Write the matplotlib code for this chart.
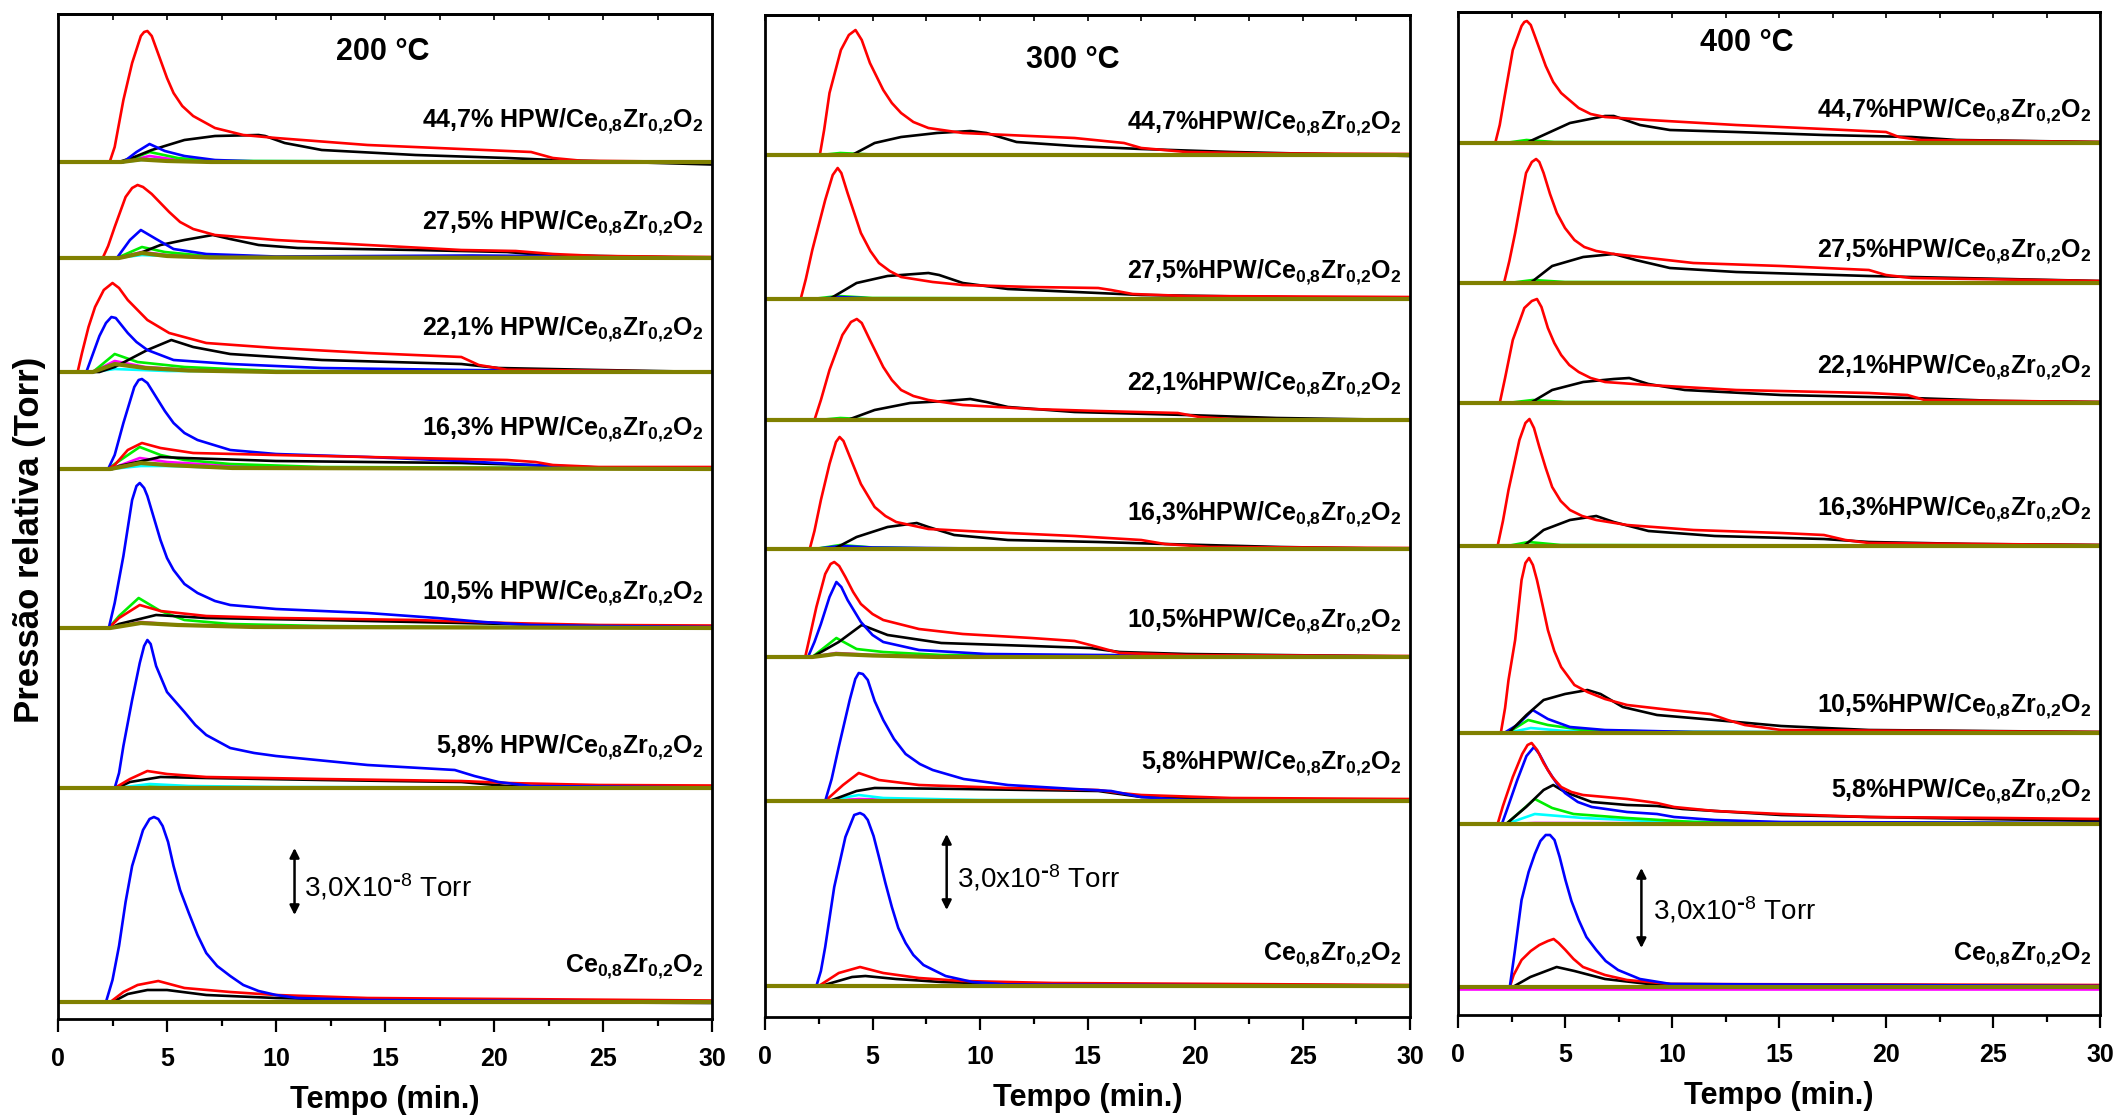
import matplotlib
matplotlib.use("Agg")
import matplotlib.pyplot as plt
from matplotlib.ticker import MultipleLocator

plt.rcParams['font.family'] = ['Liberation Sans', 'DejaVu Sans']
plt.rcParams['font.weight'] = 'bold'
plt.rcParams['mathtext.default'] = 'regular'

# Curvas de pressão relativa (u.a.) : (tempo em min, sinal)
# ---------------- 200 °C ----------------
s200_447 = {
    "cyan": [(0, 0), (3.0, 0), (4.2, 3), (6, 1), (30, 0)],
    "magenta": [(0, 0), (3.0, 0), (4.2, 6), (5.5, 2), (8, 0.5), (30, 0)],
    "green": [(0, 0), (3.0, 0), (4.2, 10), (5.5, 4), (7, 1), (30, 0)],
    "black": [(0, 0), (2.8, 0), (3.5, 5), (4.3, 12), (5.8, 22), (7.2, 26), (9.2, 27), (9.5, 26), (10.4, 19),
              (12.1, 12), (16.4, 7), (20.6, 4), (22.7, 2), (30, -2.5)],
    "blue": [(0, 0), (3.0, 0), (3.6, 10), (4.2, 18), (4.9, 11), (5.8, 6), (7.2, 2), (9.2, 0.5), (30, 0)],
    "red": [(0, 0), (2.37, 0), (2.6, 15), (3.0, 62), (3.4, 99), (3.8, 126), (3.95, 130), (4.1, 131),
            (4.3, 126), (4.7, 102), (5.0, 84), (5.3, 69), (5.7, 56), (6.2, 46), (7.2, 34), (8.5, 27),
            (10, 24), (14.2, 17), (18.5, 13), (21.7, 10), (22.7, 4), (24, 1.3), (30, 0)],
    "olive": [(0, 0), (2.9, 0), (3.8, 2.5), (5, 1), (7, 0), (30, 0)],
}
s200_275 = {
    "cyan": [(0, 0), (2.7, 0), (3.85, 3), (6, 1), (30, 0)],
    "magenta": [(0, 0), (2.7, 0), (3.85, 6), (5, 3), (7, 1), (30, 0)],
    "green": [(0, 0), (2.7, 0), (3.85, 11), (4.9, 6), (6.8, 2), (10, 0.5), (30, 0)],
    "black": [(0, 0), (2.7, 0), (3.65, 4), (4.7, 13), (5.8, 18), (7.1, 23), (7.9, 19), (9.2, 13),
              (11, 10), (16.4, 8), (20.6, 6), (22.3, 3), (30, 0)],
    "blue": [(0, 0), (2.7, 0), (3.3, 18), (3.8, 28), (4.5, 19), (5.3, 9), (6.8, 4), (10, 1.5),
             (19, 2.5), (22, 2), (24, 0.5), (30, 0)],
    "red": [(0, 0), (2.05, 0), (2.3, 12), (2.6, 31), (3.1, 61), (3.4, 70), (3.65, 73), (3.9, 71),
            (4.3, 64), (5.1, 46), (5.6, 36), (6.2, 29), (7.2, 23), (10, 18), (14.2, 13), (18.5, 8),
            (21, 7), (22.7, 4), (24.8, 2), (30, 1)],
    "olive": [(0, 0), (2.8, 0), (3.85, 5), (5, 2), (7, 0.5), (30, 0)],
}
s200_221 = {
    "cyan": [(0, 0), (1.6, 0), (2.6, 3), (5, 1), (30, 0)],
    "magenta": [(0, 0), (1.6, 0), (2.6, 11), (4, 5), (6, 2), (10, 0.5), (30, 0)],
    "green": [(0, 0), (1.6, 0), (2.6, 18), (3.65, 10), (5.8, 5), (10, 1), (30, 0)],
    "black": [(0, 0), (1.9, 0), (2.6, 5), (4.1, 22), (5.2, 32), (6.2, 25), (7.9, 18), (12.1, 12),
              (18.5, 8), (20.2, 4), (24.8, 2), (30, 0)],
    "blue": [(0, 0), (1.3, 0), (1.5, 12), (1.9, 36), (2.2, 49), (2.45, 55), (2.65, 54), (3.2, 39),
             (3.6, 30), (4.1, 22), (5.3, 12), (7.9, 8), (12.1, 4), (18.5, 2), (30, 0)],
    "red": [(0, 0), (0.9, 0), (1.1, 19), (1.4, 45), (1.7, 65), (2.1, 82), (2.5, 89), (2.8, 84),
            (3.2, 72), (4.1, 52), (5.1, 39), (6.8, 29), (10, 24), (14.2, 19), (18.5, 15), (19.3, 7),
            (20.6, 2.3), (30, 0)],
    "olive": [(0, 0), (1.6, 0), (2.6, 8), (4, 4), (6, 1.5), (10, 0), (30, 0)],
}
s200_163 = {
    "cyan": [(0, 0), (2.4, 0), (3.8, 3), (5, 3), (8, 1), (30, 0)],
    "magenta": [(0, 0), (2.4, 0), (3.75, 11), (5, 7), (8, 3), (12, 1), (30, 0)],
    "green": [(0, 0), (2.3, 0), (2.6, 5), (3.75, 22), (4.7, 14), (5.8, 9), (7.9, 5), (12.1, 2), (30, 0.5)],
    "black": [(0, 0), (2.5, 0), (2.8, 3), (4.7, 12), (5.8, 11), (10, 8), (18.5, 6), (21.7, 4),
              (24.8, 1), (30, 0)],
    "blue": [(0, 0), (2.3, 0), (2.6, 14), (3.0, 46), (3.5, 82), (3.7, 89), (3.85, 90), (4.1, 86),
             (4.5, 72), (4.9, 58), (5.3, 46), (5.8, 36), (6.4, 29), (7.9, 19), (10, 15), (14.2, 12),
             (18.5, 8), (21.7, 4), (24.8, 1.5), (30, 0.5)],
    "red": [(0, 0), (2.3, 0), (2.6, 4), (3.2, 19), (3.85, 26), (4.7, 21), (6.2, 16), (10, 14),
            (14.2, 12), (20.6, 9), (21.9, 7), (22.7, 4), (24.8, 2), (30, 2)],
    "olive": [(0, 0), (2.4, 0), (3.8, 6), (5, 4), (8, 1), (30, 0)],
}
s200_105 = {
    "magenta": [(0, 0), (2.4, 0), (3.8, 6), (5.5, 3), (9, 1), (30, 0)],
    "green": [(0, 0), (2.33, 0), (2.8, 12), (3.7, 30), (4.7, 17), (5.8, 8), (7.9, 4), (12.1, 2),
              (18.5, 1), (30, 0.5)],
    "black": [(0, 0), (2.4, 0), (2.8, 4), (4.5, 13), (6.8, 10), (12.1, 8), (18.5, 5), (22.7, 3), (30, 1)],
    "red": [(0, 0), (2.33, 0), (2.8, 10), (3.75, 23), (4.7, 17), (6.8, 12), (10, 10), (16.4, 8),
            (20.6, 5), (24.8, 3), (30, 2.5)],
    "blue": [(0, 0), (2.33, 0), (2.6, 25), (3.0, 72), (3.4, 128), (3.6, 142), (3.75, 145), (3.95, 140),
             (4.1, 132), (4.4, 110), (4.7, 88), (5.0, 70), (5.3, 58), (5.8, 44), (6.4, 35), (7.2, 27),
             (7.9, 23), (10, 19), (14.2, 15), (17.4, 10), (19.5, 6), (21.7, 3), (24.8, 2), (30, 1)],
    "olive": [(0, 0), (2.4, 0), (3.8, 5), (5.5, 3), (9, 1), (30, 0)],
}
s200_58 = {
    "green": [(0, 0), (2.7, 0), (4.2, 1.5), (8, 0.5), (30, 0)],
    "cyan": [(0, 0), (2.7, 0), (4.2, 4), (6, 2), (10, 1), (30, 0)],
    "black": [(0, 0), (2.7, 0), (3.3, 6), (4.7, 11), (6.8, 10), (12.1, 8), (18.5, 6), (20.6, 2), (30, 1)],
    "red": [(0, 0), (2.6, 0), (3.3, 9), (4.1, 17), (5.0, 14), (6.8, 11), (12.1, 9), (18.5, 7),
            (20.6, 5), (24.8, 3), (30, 2.5)],
    "blue": [(0, 0), (2.6, 0), (2.8, 15), (3.0, 42), (3.4, 88), (3.75, 125), (3.95, 142), (4.1, 148),
             (4.25, 144), (4.5, 122), (5.0, 96), (5.8, 76), (6.3, 63), (6.8, 53), (7.9, 40), (9, 35),
             (10, 32), (14.2, 23), (18.2, 18), (19.1, 12), (20.2, 6), (21.7, 2), (30, 0.5)],
    "olive": [(0, 0), (30, 0)],
}
s200_ce = {
    "black": [(0, 0), (2.5, 0), (3.2, 8), (4.1, 12), (5.0, 12), (6.8, 7), (10, 4), (14.2, 2), (20, 0), (30, -1)],
    "red": [(0, 0), (2.4, 0), (3.0, 10), (3.65, 17), (4.6, 21), (5.8, 14), (7.9, 10), (10, 7), (14.2, 4), (30, 1.5)],
    "blue": [(0, 0), (2.2, 0), (2.5, 22), (2.8, 56), (3.1, 100), (3.4, 136), (3.9, 172), (4.2, 183),
             (4.4, 185), (4.6, 183), (4.8, 176), (5.05, 160), (5.3, 136), (5.6, 112), (6.0, 89),
             (6.4, 67), (6.8, 49), (7.3, 36), (7.9, 26), (8.5, 17), (9.2, 11), (10, 7), (11, 4),
             (14.2, 2), (30, 0)],
    "olive": [(0, 0), (30, 0)],
}

# ---------------- 300 °C ----------------
s300_447 = {
    "green": [(0, 0), (2.6, 0), (3.5, 2), (5, 0.5), (30, 0)],
    "black": [(0, 0), (4.05, 0), (5.1, 12), (6.33, 18), (8.0, 22), (9.55, 24), (10.3, 22), (11.7, 13),
              (14.4, 9), (17.5, 6), (21.7, 3), (30, -1)],
    "red": [(0, 0), (2.55, 0), (2.75, 25), (3.0, 62), (3.53, 105), (3.9, 120), (4.21, 125), (4.5, 115),
            (4.88, 92), (5.5, 65), (5.9, 52), (6.33, 42), (6.9, 33), (7.6, 27), (9.2, 22), (11.3, 20),
            (14.4, 17), (16.7, 12), (17.5, 7), (19.6, 3), (22.7, 1.7), (30, 1)],
    "olive": [(0, 0), (30, 0)],
}
s300_275 = {
    "green": [(0, 0), (2.2, 0), (3.4, 3), (5, 1), (30, 0)],
    "blue": [(0, 0), (2.5, 0), (3.4, 2), (5, 0.5), (30, 0)],
    "black": [(0, 0), (3.0, 0), (4.26, 16), (5.7, 23), (7.6, 26), (8.1, 24), (9.2, 16), (11.3, 10),
              (15.5, 6), (17.5, 4), (30, 0)],
    "red": [(0, 0), (1.66, 0), (1.9, 20), (2.2, 49), (2.8, 99), (3.15, 124), (3.38, 131), (3.55, 126),
            (3.84, 106), (4.46, 66), (4.9, 48), (5.3, 36), (5.8, 28), (6.33, 22), (7.8, 17), (9.2, 14),
            (12.4, 12), (15.5, 11), (16.1, 9), (17.1, 5), (19.6, 3), (30, 2)],
    "olive": [(0, 0), (30, 0)],
}
s300_221 = {
    "green": [(0, 0), (2.5, 0), (3.5, 2), (5, 0.5), (30, 0)],
    "black": [(0, 0), (3.84, 0), (5.1, 10), (6.75, 17), (8.4, 19), (9.55, 21), (10.3, 18), (11.3, 13),
              (14.4, 8), (19.6, 5), (23.8, 2), (30, 0)],
    "red": [(0, 0), (2.3, 0), (2.6, 20), (3.0, 50), (3.6, 85), (4.0, 98), (4.27, 101), (4.5, 97),
            (4.88, 80), (5.5, 53), (5.9, 40), (6.33, 30), (6.9, 24), (7.6, 20), (9.2, 15), (12.4, 11),
            (15.5, 9), (19.2, 7), (20.2, 3), (21.7, 1), (30, 0)],
    "olive": [(0, 0), (30, 0)],
}
s300_163 = {
    "green": [(0, 0), (2.3, 0), (3.5, 4), (5, 1.5), (8, 0.5), (30, 0)],
    "blue": [(0, 0), (2.3, 0), (3.5, 3), (5, 1.5), (10, 0.5), (30, 0)],
    "black": [(0, 0), (3.2, 0), (4.26, 12), (5.7, 22), (7.06, 26), (7.6, 22), (8.8, 14), (11.3, 9),
              (15.5, 7), (18.6, 5), (24, 2), (30, 0)],
    "red": [(0, 0), (2.08, 0), (2.3, 18), (2.6, 49), (3.0, 85), (3.3, 107), (3.47, 112), (3.65, 108),
            (3.95, 92), (4.46, 65), (5.1, 42), (5.6, 33), (6.1, 27), (7.6, 20), (10.3, 17), (14.4, 13),
            (17.5, 9), (18.6, 5), (20.7, 2), (30, 1)],
    "olive": [(0, 0), (30, 0)],
}
s300_105 = {
    "magenta": [(0, 0), (2.2, 0), (3.3, 4), (5, 2), (8, 0.5), (30, 0)],
    "green": [(0, 0), (2.2, 0), (3.32, 19), (4.26, 8), (5.5, 5), (8.2, 2), (30, 0.5)],
    "black": [(0, 0), (2.2, 0), (3.43, 15), (4.5, 32), (5.7, 22), (8.2, 14), (12.4, 11), (15.1, 9),
              (16.5, 5), (19.6, 3), (30, 0.5)],
    "blue": [(0, 0), (2.0, 0), (2.3, 15), (2.6, 33), (3.0, 60), (3.32, 75), (3.55, 70), (3.84, 57),
             (4.46, 35), (5.0, 22), (5.5, 15), (7.16, 7), (10.3, 3), (15.5, 2), (30, 0.5)],
    "red": [(0, 0), (1.87, 0), (2.1, 22), (2.39, 50), (2.8, 83), (3.05, 93), (3.22, 95), (3.45, 91),
            (3.74, 80), (4.1, 65), (4.46, 53), (5.0, 43), (5.5, 37), (7.16, 28), (9.2, 23), (12.4, 19),
            (14.4, 16), (15.3, 11), (16.5, 4), (19.6, 2), (30, 1)],
    "olive": [(0, 0), (2.2, 0), (3.3, 3), (5, 1.5), (8, 0), (30, 0)],
}
s300_58 = {
    "magenta": [(0, 0), (2.8, 0), (4.36, 2), (7, 0.5), (30, 0)],
    "cyan": [(0, 0), (2.8, 0), (4.36, 6), (5.5, 3), (10, 1), (30, 0)],
    "black": [(0, 0), (3.0, 0), (4.26, 10), (5.1, 13), (9.2, 12), (15.5, 10), (17.5, 4), (21.7, 2), (30, 1)],
    "red": [(0, 0), (2.8, 0), (3.63, 16), (4.36, 28), (5.3, 21), (7.16, 16), (11.3, 13), (15.5, 11),
            (16.5, 8), (17.5, 6), (21.7, 3), (30, 2)],
    "blue": [(0, 0), (2.8, 0), (3.1, 22), (3.43, 54), (3.94, 101), (4.2, 122), (4.36, 128), (4.55, 127),
             (4.78, 121), (5.1, 100), (5.5, 81), (6.0, 62), (6.54, 47), (7.2, 37), (7.8, 31), (9.24, 22),
             (11.3, 16), (14.4, 12), (16.1, 10), (17.5, 4), (19.6, 1), (30, 0)],
    "olive": [(0, 0), (30, 0)],
}
s300_ce = {
    "black": [(0, 0), (2.6, 0), (4.05, 9), (4.67, 10), (6.1, 7), (8.2, 4), (11.3, 2), (30, 0.5)],
    "red": [(0, 0), (2.5, 0), (3.43, 13), (4.42, 19), (5.5, 13), (7.16, 8), (9.2, 5), (13.4, 3), (30, 1)],
    "blue": [(0, 0), (2.39, 0), (2.6, 15), (2.8, 39), (3.22, 99), (3.74, 149), (4.15, 171), (4.42, 173),
             (4.6, 171), (4.78, 166), (5.05, 150), (5.3, 129), (5.6, 103), (5.9, 79), (6.2, 58),
             (6.54, 43), (6.9, 31), (7.37, 21), (8.4, 10), (9.65, 4), (11.3, 1.5), (30, 0)],
    "olive": [(0, 0), (30, 0)],
}

# ---------------- 400 °C ----------------
s400_447 = {
    "green": [(0, 0), (2.2, 0), (3.2, 3), (4.5, 1), (30, 0)],
    "black": [(0, 0), (3.18, 0), (4.0, 8), (5.23, 20), (6.87, 27), (7.28, 27), (8.5, 18), (9.9, 13),
              (13.0, 11), (17.1, 8), (21.2, 6), (23.3, 3), (30, 1)],
    "red": [(0, 0), (1.74, 0), (1.95, 18), (2.15, 43), (2.56, 93), (2.97, 117), (3.1, 121), (3.22, 122),
            (3.4, 118), (3.59, 107), (4.1, 77), (4.45, 61), (4.82, 50), (5.64, 35), (6.2, 29), (6.87, 26),
            (8.92, 23), (13.0, 18), (17.1, 14), (20.0, 11), (20.6, 6), (21.6, 3), (30, 1)],
    "olive": [(0, 0), (30, 0)],
}
s400_275 = {
    "green": [(0, 0), (2.4, 0), (3.5, 3), (5, 1), (30, 0)],
    "black": [(0, 0), (3.38, 0), (4.4, 17), (5.85, 26), (7.28, 29), (8.3, 23), (9.9, 15), (13.0, 11),
              (19.2, 7), (21.2, 6), (30, 2)],
    "red": [(0, 0), (2.15, 0), (2.4, 22), (2.67, 50), (3.18, 110), (3.45, 121), (3.65, 124), (3.8, 121),
            (4.0, 110), (4.3, 89), (4.62, 70), (5.0, 55), (5.44, 43), (5.9, 36), (6.46, 32), (7.28, 29),
            (8.92, 25), (11.0, 20), (15.1, 17), (19.2, 13), (20.0, 8), (21.2, 5), (30, 2)],
    "olive": [(0, 0), (30, 0)],
}
s400_221 = {
    "green": [(0, 0), (2.3, 0), (3.5, 3), (5, 1), (30, 0)],
    "black": [(0, 0), (3.38, 0), (4.4, 13), (5.85, 21), (7.28, 24), (8.0, 25), (8.9, 19), (10.6, 13),
              (15.1, 8), (21.2, 5), (25.3, 2), (30, 1)],
    "red": [(0, 0), (1.95, 0), (2.2, 25), (2.56, 63), (3.1, 95), (3.45, 102), (3.69, 104), (3.9, 96),
            (4.2, 75), (4.5, 60), (4.82, 48), (5.2, 38), (5.64, 31), (6.2, 25), (6.87, 21), (8.9, 18),
            (13.0, 13), (19.2, 10), (21.0, 8), (21.8, 3), (30, 1)],
    "olive": [(0, 0), (30, 0)],
}
s400_163 = {
    "green": [(0, 0), (2.3, 0), (3.3, 4), (4.8, 1), (30, 0)],
    "black": [(0, 0), (3.07, 0), (4.0, 16), (5.23, 26), (6.46, 30), (7.28, 24), (8.9, 15), (12.0, 10),
              (17.1, 7), (19.2, 4), (24, 2), (30, 1)],
    "red": [(0, 0), (1.85, 0), (2.1, 25), (2.36, 56), (2.87, 106), (3.15, 123), (3.34, 127), (3.55, 118),
            (3.8, 99), (4.1, 78), (4.4, 59), (4.8, 45), (5.23, 36), (5.8, 30), (6.46, 26), (7.9, 21),
            (11.0, 16), (15.1, 13), (17.1, 11), (18.1, 6), (19.2, 3), (30, 1)],
    "olive": [(0, 0), (30, 0)],
}
s400_105 = {
    "cyan": [(0, 0), (2.3, 0), (3.4, 5), (5, 2), (10, 1), (30, 0)],
    "green": [(0, 0), (2.3, 0), (3.28, 13), (4.2, 8), (5.84, 3), (10, 1), (30, 0.5)],
    "blue": [(0, 0), (2.15, 0), (2.77, 8), (3.49, 23), (4.2, 14), (5.23, 6), (6.87, 3), (11, 1), (30, 0)],
    "black": [(0, 0), (2.36, 0), (3.2, 18), (4.0, 33), (5.0, 39), (6.05, 43), (6.66, 39), (7.7, 26),
              (9.3, 18), (12.0, 13), (15.1, 7), (19.2, 3), (30, 1)],
    "red": [(0, 0), (2.0, 0), (2.2, 25), (2.36, 53), (2.67, 93), (2.97, 153), (3.15, 170), (3.32, 175),
            (3.5, 168), (3.69, 153), (3.95, 128), (4.2, 103), (4.5, 82), (4.82, 66), (5.44, 48),
            (6.05, 41), (6.87, 34), (7.9, 28), (9.94, 23), (11.8, 19), (12.6, 13), (13.4, 8), (15.1, 3),
            (30, 1)],
    "olive": [(0, 0), (30, 0)],
}
s400_58 = {
    "magenta": [(0, 0), (2.3, 0), (3.6, 1), (30, 0)],
    "cyan": [(0, 0), (2.25, 0), (3.59, 10), (5.84, 6), (8.9, 3), (13, 1.5), (30, 0.5)],
    "green": [(0, 0), (2.25, 0), (3.59, 25), (4.4, 16), (5.4, 10), (7.9, 6), (11.0, 2), (30, 0.5)],
    "black": [(0, 0), (2.25, 0), (3.18, 17), (4.0, 34), (4.45, 39), (5.0, 32), (6.25, 22), (7.9, 19),
              (9.3, 18), (10.5, 15), (15.1, 9), (19.2, 7), (30, 3)],
    "blue": [(0, 0), (2.05, 0), (2.3, 15), (2.77, 44), (3.2, 68), (3.55, 77), (3.8, 70), (4.2, 54),
             (4.6, 41), (5.0, 31), (5.6, 22), (6.25, 17), (7.9, 12), (9.3, 10), (10.1, 7), (12.0, 4),
             (15.1, 2), (30, 1)],
    "red": [(0, 0), (1.85, 0), (2.1, 18), (2.56, 47), (3.0, 70), (3.25, 79), (3.44, 81), (3.7, 74),
            (4.0, 61), (4.4, 47), (4.82, 37), (5.3, 32), (5.84, 29), (7.9, 25), (9.3, 21), (10.1, 17),
            (12.0, 13), (15.1, 10), (19.2, 7), (25.3, 6), (30, 5)],
    "olive": [(0, 0), (30, 0)],
}
s400_ce = {
    "magenta": [(0, -1.5), (30, -1.5)],
    "black": [(0, 0), (2.56, 0), (3.38, 10), (4.61, 20), (5.44, 16), (6.87, 8), (8.92, 3), (30, 1)],
    "red": [(0, 0), (2.42, 0), (2.6, 12), (2.97, 27), (3.4, 36), (3.8, 42), (4.2, 46), (4.47, 48),
            (4.7, 44), (5.02, 37), (5.4, 28), (5.84, 20), (6.87, 12), (7.9, 7), (9.94, 3), (30, 2)],
    "blue": [(0, 0), (2.42, 0), (2.65, 35), (2.97, 87), (3.3, 115), (3.59, 133), (3.85, 146), (4.1, 152),
             (4.3, 152), (4.51, 147), (4.75, 130), (5.02, 107), (5.3, 86), (5.64, 67), (6.0, 50),
             (6.46, 37), (6.9, 26), (7.48, 17), (8.5, 8), (9.94, 3), (30, 1)],
    "olive": [(0, 0), (30, 0)],
}

temperaturas = ["200 °C", "300 °C", "400 °C"]
amostras = ["44,7%", "27,5%", "22,1%", "16,3%", "10,5%", "5,8%", ""]
curvas = [
    [s200_447, s200_275, s200_221, s200_163, s200_105, s200_58, s200_ce],
    [s300_447, s300_275, s300_221, s300_163, s300_105, s300_58, s300_ce],
    [s400_447, s400_275, s400_221, s400_163, s400_105, s400_58, s400_ce],
]
escala_txt = [r"3,0X10$^{\text{-}8}$ Torr", r"3,0x10$^{\text{-}8}$ Torr", r"3,0x10$^{\text{-}8}$ Torr"]
escala = [67, 76, 80]  # 3,0x10^-8 Torr em u.a. de cada painel

cores = {"cyan": "#00ffff", "magenta": "#ff00ff", "green": "#00ee00", "black": "#000000",
         "blue": "#0000ff", "red": "#ff0000", "olive": "#808000"}

# layout (deslocamentos verticais, posições de texto)
offsets = [[857, 761, 647, 550, 391, 231, 17],
           [862, 718, 597, 468, 360, 216, 31],
           [872, 732, 612, 469, 282, 191, 28]]
label_dy = [[35, 29, 37, 34, 29, 35, 30],
            [26, 21, 30, 29, 30, 32, 26],
            [26, 26, 30, 31, 21, 27, 27]]
ylims = [1005, 1002, 1003]
rects = [[58 / 2116, 97 / 1116, 654 / 2116, 1005 / 1116],
         [765 / 2116, 99 / 1116, 645 / 2116, 1002 / 1116],
         [1458 / 2116, 101 / 1116, 642 / 2116, 1003 / 1116]]
titulo_pos = [(14.9, 967), (14.3, 957), (13.5, 972)]
seta_pos = [(10.85, 104), (8.45, 107), (8.57, 67)]
escala_txt_pos = [(11.3, 132), (8.93, 139), (9.12, 105)]
xticks = [0, 5, 10, 15, 20, 25, 30]

fig = plt.figure(figsize=(21.16, 11.16), dpi=100)

for i in range(3):
    ax = fig.add_axes(rects[i])
    for j, amostra in enumerate(curvas[i]):
        base = offsets[i][j]
        for nome, pts in amostra.items():
            t = [p[0] for p in pts]
            v = [base + p[1] for p in pts]
            lw = 3.0 if nome == "olive" else 1.9
            ax.plot(t, v, color=cores[nome], lw=lw, solid_capstyle="butt", solid_joinstyle="round")
        if amostras[j]:
            sep = " " if i == 0 else ""
            txt = amostras[j] + sep + "HPW/Ce$_{0{,}8}$Zr$_{0{,}2}$O$_{2}$"
        else:
            txt = "Ce$_{0{,}8}$Zr$_{0{,}2}$O$_{2}$"
        ax.text(29.6, base + label_dy[i][j], txt, ha="right", va="baseline", fontsize=18, fontweight="bold")

    ax.text(titulo_pos[i][0], titulo_pos[i][1], temperaturas[i], ha="center", va="center",
            fontsize=22, fontweight="bold")

    sx, sy = seta_pos[i]
    ax.annotate("", xy=(sx, sy + escala[i]), xytext=(sx, sy),
                arrowprops=dict(arrowstyle="<|-|>", color="black", lw=1.8, mutation_scale=14,
                                shrinkA=0, shrinkB=0))
    ax.text(escala_txt_pos[i][0], escala_txt_pos[i][1], escala_txt[i], ha="left", va="center",
            fontsize=20, fontweight="normal")

    ax.set_xlim(0, 30)
    ax.set_ylim(0, ylims[i])
    ax.set_yticks([])
    ax.set_xticks(xticks)
    ax.set_xticklabels([str(x) for x in xticks], fontweight="bold", fontsize=18)
    ax.xaxis.set_minor_locator(MultipleLocator(2.5))
    ax.tick_params(axis="x", which="major", length=9.5, width=1.6, direction="out", pad=11)
    ax.tick_params(axis="x", which="minor", length=5, width=1.6, direction="out")
    for s in ax.spines.values():
        s.set_linewidth(2.0)
    ax.set_xlabel("Tempo (min.)", fontsize=22, fontweight="bold", labelpad=10)

    top = ax.secondary_xaxis("top")
    top.xaxis.set_major_locator(MultipleLocator(2.5))
    top.tick_params(axis="x", direction="in", length=4, width=1.2, labeltop=False)
    top.spines["top"].set_linewidth(2.0)

fig.text(30 / 2116, 1 - 540 / 1116, "Pressão relativa (Torr)", rotation=90, ha="center", va="center",
         fontsize=25, fontweight="bold")

fig.savefig("out.png", dpi=100)
